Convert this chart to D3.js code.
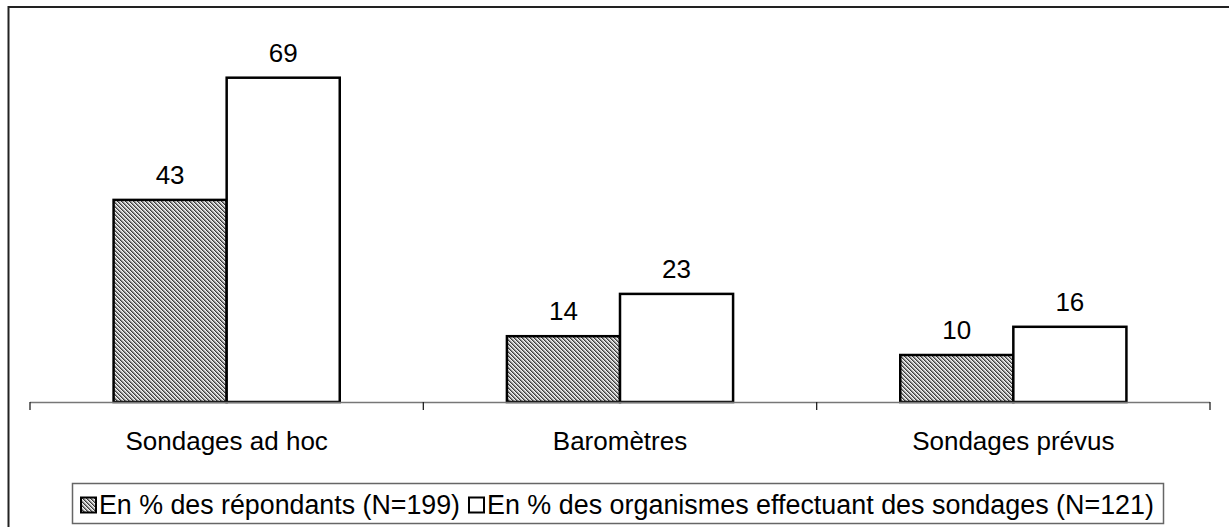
<!DOCTYPE html>
<html><head><meta charset="utf-8">
<script src="https://cdn.jsdelivr.net/npm/d3@7"></script>
<style>html,body{margin:0;padding:0;background:#fff;}svg{display:block;font-family:Arial,"Liberation Sans",sans-serif;}</style>
</head><body><svg id="c" width="1229" height="527"></svg>
<script>
const categories = ["Sondages ad hoc", "Baromètres", "Sondages prévus"];
const seriesNames = ["En % des répondants (N=199)", "En % des organismes effectuant des sondages (N=121)"];
const repondants = [43, 14, 10];
const organismes = [69, 23, 16];

const svg = d3.select("#c");
const defs = svg.append("defs");
const pat = defs.append("pattern").attr("id","hatch").attr("patternUnits","userSpaceOnUse")
  .attr("width",4).attr("height",4);
pat.append("rect").attr("width",4).attr("height",4).attr("fill","#f4f4f4");
// fine diagonal pixel pattern
for (let r = 0; r < 4; r++) {
  pat.append("rect").attr("x",r%4).attr("y",r).attr("width",1).attr("height",1)
    .attr("fill","#3c3c3c").attr("shape-rendering","crispEdges");
  pat.append("rect").attr("x",(r+1)%4).attr("y",r).attr("width",1).attr("height",1)
    .attr("fill","#8a8a8a").attr("shape-rendering","crispEdges");
  pat.append("rect").attr("x",(r+2)%4).attr("y",r).attr("width",1).attr("height",1)
    .attr("fill","#c8c8c8").attr("shape-rendering","crispEdges");
}

// outer frame
svg.append("rect").attr("x",8.5).attr("y",7).attr("width",1300).attr("height",600)
  .attr("fill","none").attr("stroke","#222").attr("stroke-width",2);

const baseY = 402;
const x0 = d3.scaleBand().domain(categories).range([30,1210]).paddingInner(0.425).paddingOuter(0.2125);
const x1 = d3.scaleBand().domain([0,1]).range([0,x0.bandwidth()]);
const y = d3.scaleLinear().domain([0,80]).range([baseY, baseY-80*4.7]);

const data = categories.map((c,i)=>({c, vals:[repondants[i], organismes[i]]}));
const fills = ["url(#hatch)", "#fff"];

const g = svg.append("g");
data.forEach(d=>{
  d.vals.forEach((v,j)=>{
    const bx = x0(d.c)+x1(j);
    g.append("rect").attr("x",bx).attr("y",y(v)).attr("width",x1.bandwidth()).attr("height",baseY-y(v))
      .attr("fill",fills[j]).attr("stroke","#000").attr("stroke-width",2.5);
    g.append("text").attr("x",bx+x1.bandwidth()/2).attr("y",y(v)-16).attr("text-anchor","middle")
      .attr("font-size",26).attr("fill","#000").text(v);
  });
});

// axis
const step = x0.step();
const r = x0.range();
svg.append("line").attr("x1",r[0]).attr("x2",r[1]).attr("y1",baseY+0.5).attr("y2",baseY+0.5)
  .attr("stroke","#777").attr("stroke-width",1.5);
d3.range(categories.length+1).forEach(i=>{
  const tx = r[0]+i*step;
  svg.append("line").attr("x1",tx).attr("x2",tx).attr("y1",baseY).attr("y2",baseY+8)
    .attr("stroke","#222").attr("stroke-width",1.3);
});
categories.forEach(c=>{
  svg.append("text").attr("x",x0(c)+x0.bandwidth()/2).attr("y",450).attr("text-anchor","middle")
    .attr("font-size",26).attr("fill","#000").text(c);
});

// legend
svg.append("rect").attr("x",72.5).attr("y",483.5).attr("width",1091).attr("height",40)
  .attr("fill","#fff").attr("stroke","#666").attr("stroke-width",1.5);
const legX = [80, 468];
seriesNames.forEach((s,j)=>{
  svg.append("rect").attr("x",legX[j]+1).attr("y",497.5).attr("width",15).attr("height",15)
    .attr("fill",fills[j]).attr("stroke","#000").attr("stroke-width",2);
  svg.append("text").attr("x",legX[j]+19).attr("y",514).attr("font-size",27)
    .attr("textLength", j===0 ? 361 : 667).attr("lengthAdjust","spacingAndGlyphs")
    .attr("fill","#000").text(s);
});
</script></body></html>
